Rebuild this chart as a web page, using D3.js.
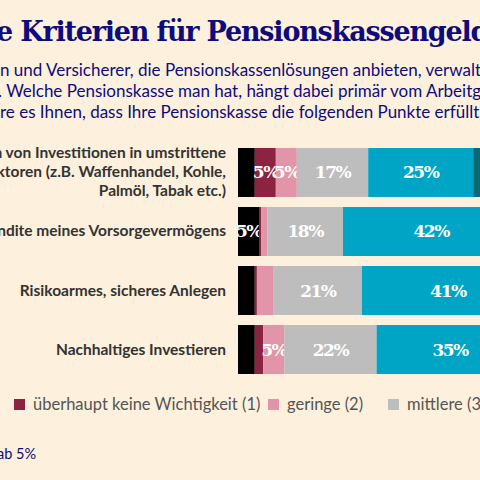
<!DOCTYPE html>
<html><head><meta charset="utf-8">
<script src="https://cdn.jsdelivr.net/npm/d3@7"></script>
<style>body{margin:0;background:#fdf0dc;}svg{display:block}</style>
</head><body><svg id="c" width="480" height="480"></svg>
<script>
const categories = ["row1","row2","row3","row4"];
const rowLabels = [
  ["n von Investitionen in umstrittene","ektoren (z.B. Waffenhandel, Kohle,","Palmöl, Tabak etc.)"],
  ["endite meines Vorsorgevermögens"],
  ["Risikoarmes, sicheres Anlegen"],
  ["Nachhaltiges Investieren"]
];
const seriesNames = ["k.A.","überhaupt keine Wichtigkeit (1)","geringe (2)","mittlere (3)","hohe (4)","sehr hohe (5)"];
const colors = ["#000000","#8c2341","#e295a8","#bdbdbd","#00a5c5","#0a6a73"];
const values = [
  [4,5,5,17,25,44],
  [5,0.5,1.5,18,42,33],
  [4,0.5,4,21,41,29.5],
  [4,2,5,22,35,32]
];
const legendItems = [1,2,3];

const svg = d3.select("#c");
svg.append("rect").attr("width",480).attr("height",480).attr("fill","#fdf0dc");
const navy = "#0d0c7c";
svg.append("text").attr("x",-4).attr("y",41).attr("fill",navy)
  .attr("font-family","DejaVu Serif").attr("font-weight","bold").attr("font-size",27)
  .attr("letter-spacing",-1.2).text("e Kriterien für Pensionskassengelder");
const sub = ["n und Versicherer, die Pensionskassenlösungen anbieten, verwalte",". Welche Pensionskasse man hat, hängt dabei primär vom Arbeitge","re es Ihnen, dass Ihre Pensionskasse die folgenden Punkte erfüllt?"];
sub.forEach((t,i)=>svg.append("text").attr("x",i==1?-2:0).attr("y",76+i*21).attr("fill",navy)
  .attr("font-family","Lato").attr("font-size",17).text(t));

const x = d3.scaleLinear().domain([0,100]).range([238,658]);
const y = d3.scaleBand().domain(categories).range([148,374]).paddingInner(0.17).paddingOuter(0);

categories.forEach((c,i)=>{
  let acc=0;
  values[i].forEach((v,j)=>{
    const x0=x(acc), x1=x(acc+v); acc+=v;
    svg.append("rect").attr("x",x0).attr("y",y(c)).attr("width",x1-x0).attr("height",y.bandwidth()).attr("fill",colors[j]);
    if(v>=5) svg.append("text").attr("x",(x0+x1)/2).attr("y",y(c)+y.bandwidth()/2+6)
      .attr("text-anchor","middle").attr("fill","#fff").attr("font-family","DejaVu Serif")
      .attr("font-weight","bold").attr("font-size",17).attr("letter-spacing",-1.5).text(Math.round(v)+"%");
  });
  const lines=rowLabels[i], n=lines.length;
  lines.forEach((t,k)=>svg.append("text").attr("x",226)
    .attr("y",y(c)+y.bandwidth()/2+5+(k-(n-1)/2)*19).attr("text-anchor","end")
    .attr("fill","#333").attr("font-family","Lato").attr("font-weight","bold").attr("font-size",15.5).text(t));
});

const lx=[14,268,388];
legendItems.forEach((s,i)=>{
  svg.append("rect").attr("x",lx[i]).attr("y",399).attr("width",11).attr("height",11).attr("fill",colors[s]);
  svg.append("text").attr("x",lx[i]+19).attr("y",410).attr("fill","#555").attr("font-family","Lato").attr("font-size",16.5).text(seriesNames[s]);
});
svg.append("text").attr("x",-3).attr("y",459).attr("fill",navy).attr("font-family","Lato").attr("font-size",14.5).text("ab 5%");
</script></body></html>
